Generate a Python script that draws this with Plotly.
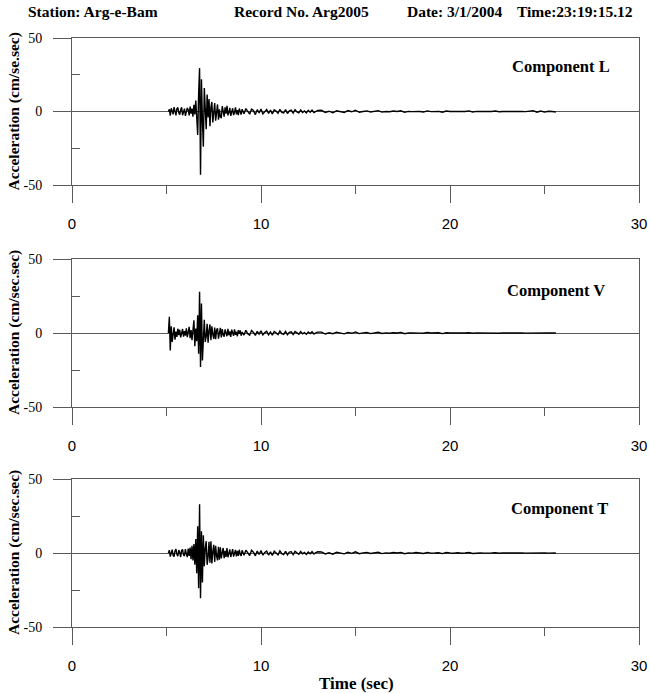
import numpy as np
import plotly.graph_objects as go

# ---- time grid segments (start, step) ----
seg_starts = [5.10, 9.10, 13.20]
seg_steps = [0.05, 0.10, 0.20]

# ---- Component L (cm/s^2) ----
L_a = [0, 1.5, -2.8, 2.2, 0.4, -1.9, 3.0, -1.2, -2.6, 1.8, 2.7, -0.8, -2.2, 1.1, 2.9, -2.5, 0.6, 1.9, -3.0, -1.0,
       2.4, 1.2, -2.7, 3.3, -1.5, 2.0, -3.6,
       4.5, -2.0, 7.5, -8.5, -16.0, 12.0, 29.5, -43.0, 22.0, -6.0, -24.0, 16.0, 5.0, -12.0, 11.5, -4.0, 8.5, -10.0,
       3.0, 6.5, -7.5, -2.0, 5.8, -6.2, 2.5, 4.8, -5.5, 1.5, -3.8,
       -4.2, 3.6, 0.8, -3.5, 2.9, -1.4, 3.8, -2.6, -0.5, 2.5, -3.0, 1.2, 2.2, -2.4, -0.6, 2.8, -1.9, 1.0, -2.5, 2.0,
       0.3, -2.1, 1.6]
L_b = [-1.5, 2.0, -0.4, -1.8, 1.6, 0.7, -2.1, 1.2, -0.9, 1.7, -1.6, 0.2, 1.4, -1.3, 0.9, -1.7, 1.1, 0.3, -1.2, 1.5,
       -0.6, -1.0, 1.3, -1.4, 0.5, 0.9, -1.1, 1.2, -0.3, -0.9, 1.0, -0.7, 0.4, -1.0, 0.8, -0.5, 0.9, -0.8, 0.2, 0.7]
L_c = [0.8, -0.6, 0.2, -0.9, 0.5, 0.1, -0.7, 0.6, -0.2, 0.9, -0.5, 0.0, 0.4, -0.3, 0.1, 0.6, -0.4, 0.0, -0.2, 0.3,
       0.0, 0.5, -0.6, 0.1, -0.1, 0.2, 0.0, -0.3, 0.4, -0.1, 0.0, 0.1, -0.5, 0.3, 0.0, -0.1, 0.2, -0.2, 0.0, 0.4,
       -0.3, 0.1, 0.0, -0.1, 0.1, 0.0, 0.3, -0.2, 0.0, 0.1, -0.1, 0.0, 0.1, 0.0, -0.1, 0.0, 0.6, -0.5, 0.3, -0.4,
       0.2, 0.0, -0.3]

# ---- Component V ----
V_a = [0, 10.9, -11.8, 4.5, -6.0, 2.0, 3.8, -4.5, 1.0, -2.6, 2.9, -1.5, 2.2, -3.0, 0.5, 2.7, -2.4, 1.3, -1.8, 3.1,
       -2.8, 0.9, 4.2, -3.5, 2.0, -4.8, 5.5,
       8.6, -9.0, 3.0, -5.5, 12.0, -14.0, 27.9, -23.0, 20.0, -18.6, 4.0, 9.0, -6.0, -2.5, 6.2, -6.5, 1.5, 5.8,
       -4.8, 4.5, -1.0, -4.0, 3.6, -4.2, 2.0, 3.2, -3.8, 0.5, 3.5,
       -3.0, 2.6, -1.2, -2.5, 2.4, 0.6, -2.2, 2.8, -1.5, 1.1, -2.6, 2.3, -0.4, -1.9, 2.4, -1.2, 0.8, -2.2, 1.9, -0.5,
       1.7, -1.8, 0.6]
V_b = [-1.4, 1.8, -0.5, -1.5, 1.7, 0.4, -1.6, 1.1, -0.8, 1.5, -1.3, 0.3, 1.2, -1.2, 0.7, -1.4, 1.0, 0.2, -1.1, 1.3,
       -0.5, -0.9, 1.1, -1.2, 0.4, 0.8, -1.0, 1.0, -0.2, -0.8, 0.9, -0.6, 0.3, -0.9, 0.7, -0.4, 0.8, -0.7, 0.1, 0.6]
V_c = [0.6, -0.7, 0.1, -0.5, 0.6, 0.0, -0.6, 0.4, -0.2, 0.7, -0.4, 0.1, 0.3, -0.4, 0.0, 0.5, -0.3, 0.1, -0.2, 0.2,
       0.0, 0.4, -0.5, 0.1, 0.0, 0.2, -0.1, -0.2, 0.3, 0.0, 0.0, 0.2, -0.4, 0.2, 0.0, -0.1, 0.3, -0.2, 0.0, 0.2,
       -0.2, 0.1, 0.0, -0.1, 0.2, 0.0, 0.1, -0.2, 0.0, 0.1, -0.1, 0.0, 0.1, 0.0, -0.1, 0.0, 0.1, 0.0, 0.0, -0.1,
       0.1, 0.0, 0.0]

# ---- Component T ----
T_a = [0, 1.9, -2.4, 0.8, 2.3, -1.6, -2.5, 1.4, 2.6, -0.9, -2.2, 2.0, 0.5, -2.7, 1.7, 2.4, -1.3, -2.0, 2.6, -0.6,
       -2.8, 3.0, -1.9, 3.6, -4.2, 4.8, -5.0,
       6.0, -8.0, 9.5, -13.6, 18.0, -23.8, 32.9, -30.6, 14.7, -20.0, 12.0, -9.0, 3.0, 8.0, -8.0, -3.0, 7.5, -6.5,
       8.0, -7.0, 1.0, 5.5, -6.0, 4.8, -2.0, -5.0, 4.2, -4.5, 3.8,
       -3.6, 0.4, 3.4, -3.5, 1.5, -2.6, 3.3, -2.9, 0.7, 2.5, -2.7, 1.0, 2.6, -2.4, -0.5, 2.1, -2.3, 1.4, -1.9, 2.2,
       -0.8, -2.0, 1.8]
T_b = [-1.6, 1.9, -0.3, -1.7, 1.8, 0.5, -1.9, 1.3, -1.0, 1.6, -1.5, 0.4, 1.3, -1.4, 0.8, -1.6, 1.2, 0.2, -1.2, 1.4,
       -0.4, -1.1, 1.2, -1.3, 0.6, 0.9, -1.1, 1.1, -0.2, -0.9, 1.0, -0.6, 0.4, -1.0, 0.7, -0.5, 0.9, -0.7, 0.3, 0.8]
T_c = [0.7, -0.6, 0.1, -0.8, 0.5, 0.0, -0.6, 0.5, -0.2, 0.8, -0.5, 0.1, 0.4, -0.3, 0.0, 0.5, -0.4, 0.1, -0.2, 0.3,
       0.0, 0.4, -0.5, 0.1, -0.1, 0.3, 0.0, -0.3, 0.4, -0.1, 0.0, 0.2, -0.4, 0.3, 0.0, -0.2, 0.2, -0.2, 0.0, 0.3,
       -0.3, 0.1, 0.0, -0.1, 0.2, 0.0, 0.2, -0.2, 0.0, 0.1, -0.1, 0.0, 0.2, 0.0, -0.1, 0.0, 0.1, -0.1, 0.0, 0.1,
       -0.1, 0.0, 0.0]

components = ["L", "V", "T"]
ytitles = ["Acceleration (cm/se.sec)", "Acceleration (cm/sec.sec)", "Acceleration (cm/sec.sec)"]
series = {"L": [L_a, L_b, L_c], "V": [V_a, V_b, V_c], "T": [T_a, T_b, T_c]}
x_ticks = [0, 10, 20, 30]
x_minor = [5, 15, 25]
y_ticks = [-50, 0, 50]
y_ticktext = ["-50", "0", "50"]
y_minor = [-25, 25]

header = ["Station: Arg-e-Bam", "Record No. Arg2005", "Date: 3/1/2004", "Time:23:19:15.12"]


def build(segs):
    t, a = [], []
    for s0, ds, vals in zip(seg_starts, seg_steps, segs):
        t.extend(np.round(s0 + ds * np.arange(len(vals)), 3).tolist())
        a.extend(vals)
    return t, a


W, H = 650, 693
X0, X1 = 72, 639
panels_px = [(38, 185), (259, 407), (479, 627)]
comp_pos = [(561, 66), (556, 290), (559, 508)]

LC = "#5a5a5a"
SERIF = "Liberation Serif, Times New Roman, serif"
SANS = "Liberation Sans, Arial, sans-serif"

fig = go.Figure()
layout = dict(
    width=W, height=H, margin=dict(l=0, r=0, t=0, b=0, autoexpand=False),
    paper_bgcolor="white", plot_bgcolor="white", showlegend=False,
)
annotations = []
for i, comp in enumerate(components):
    t, a = build(series[comp])
    xa = "x" if i == 0 else f"x{i+1}"
    ya = "y" if i == 0 else f"y{i+1}"
    fig.add_trace(go.Scatter(x=t, y=a, mode="lines", line=dict(color="black", width=1.4),
                             xaxis=xa, yaxis=ya, hoverinfo="skip"))
    top, bot = panels_px[i]
    xkey = "xaxis" if i == 0 else f"xaxis{i+1}"
    ykey = "yaxis" if i == 0 else f"yaxis{i+1}"
    layout[xkey] = dict(
        domain=[X0 / W, X1 / W], range=[0, 30], anchor=ya, automargin=False,
        tickmode="array", tickvals=x_ticks, ticks="outside", ticklen=17, tickwidth=1, tickcolor=LC,
        showline=True, linecolor=LC, linewidth=1, mirror=True, showgrid=False, zeroline=False,
        minor=dict(tickmode="array", tickvals=x_minor, ticks="outside", ticklen=8, tickcolor=LC, showgrid=False),
        tickfont=dict(family=SANS, size=15, color="black"), ticklabelstandoff=8,
    )
    layout[ykey] = dict(
        domain=[1 - bot / H, 1 - top / H], range=[-50, 50], anchor=xa, automargin=False,
        tickmode="array", tickvals=y_ticks, ticktext=y_ticktext, ticks="outside", ticklen=18, tickwidth=1,
        tickcolor=LC, showline=True, linecolor=LC, linewidth=1, mirror=True, showgrid=True, gridcolor=LC,
        gridwidth=1, zeroline=False,
        minor=dict(tickmode="array", tickvals=y_minor, ticks="inside", ticklen=8, tickcolor=LC, showgrid=False),
        tickfont=dict(family=SERIF, size=14, color="black"), ticklabelstandoff=8,
    )
    annotations.append(dict(text=ytitles[i], x=14 / W, y=1 - (top + bot) / 2 / H, xref="paper", yref="paper",
                            textangle=-90, showarrow=False, xanchor="center", yanchor="middle",
                            font=dict(family=SERIF, size=15.5, color="black", weight="bold")))
    cx, cy = comp_pos[i]
    annotations.append(dict(text="Component " + comp, x=cx / W, y=1 - cy / H, xref="paper", yref="paper",
                            showarrow=False, xanchor="center", yanchor="middle",
                            font=dict(family=SERIF, size=16.5, color="black", weight="bold")))

header_x = [26, 232, 405, 515]
for txt, hx in zip(header, header_x):
    annotations.append(dict(text=txt, x=hx / W, y=1 - 12 / H, xref="paper", yref="paper", showarrow=False,
                            xanchor="left", yanchor="middle",
                            font=dict(family=SERIF, size=15.5, color="black", weight="bold")))

annotations.append(dict(text="Time (sec)", x=356 / W, y=1 - 683 / H, xref="paper", yref="paper", showarrow=False,
                        xanchor="center", yanchor="middle",
                        font=dict(family=SERIF, size=17, color="black", weight="bold")))
layout["annotations"] = annotations
fig.update_layout(**layout)
fig.write_html("out.html")
